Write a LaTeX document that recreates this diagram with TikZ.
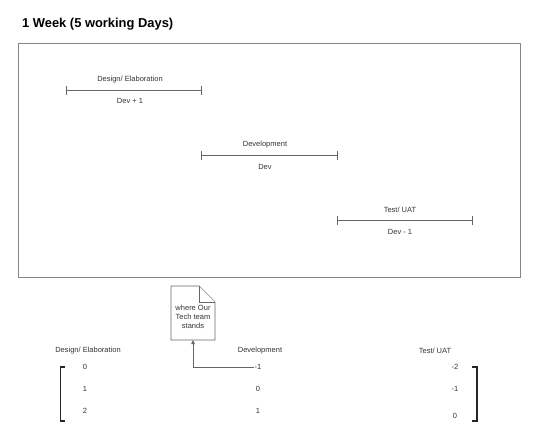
\documentclass[tikz,border=0pt]{standalone}
\usepackage{fontspec}
\setmainfont{Liberation Sans}
\usetikzlibrary{arrows.meta}
\definecolor{txt}{HTML}{333333}
\definecolor{ln}{HTML}{666666}
\begin{document}
\begin{tikzpicture}[x=1pt,y=-1pt,
  lbl/.style={font=\fontsize{7.5}{9}\selectfont,text=txt,inner sep=0pt,anchor=center},
  bar/.style={draw=ln,line width=0.9pt},
  frame/.style={draw=ln!80,line width=1pt},
  brk/.style={draw=black!85,line width=1.4pt},
  doc/.style={draw=ln,line width=0.8pt,fill=white},
  conn/.style={draw=ln,line width=0.8pt,-{Triangle[length=4pt,width=3.5pt]}}]
\useasboundingbox (0,0) rectangle (538,447);
% title
\node[font=\bfseries\fontsize{12.9}{15}\selectfont,anchor=west,inner sep=0pt] (title) at (22,24) {1 Week (5 working Days)};
% frame
\draw[frame] (18,43) rectangle (520,277);
% bars
\coordinate (d1) at (66,90); \coordinate (d2) at (201,90);
\coordinate (v1) at (201,155); \coordinate (v2) at (337,155);
\coordinate (t1) at (337,220); \coordinate (t2) at (472,220);
\draw[bar] (d1) -- (d2);
\draw[bar] ([yshift=-4.5]d1) -- ([yshift=4.5]d1);
\draw[bar] ([yshift=-4.5]d2) -- ([yshift=4.5]d2);
\draw[bar] (v1) -- (v2);
\draw[bar] ([yshift=-4.5]v1) -- ([yshift=4.5]v1);
\draw[bar] ([yshift=-4.5]v2) -- ([yshift=4.5]v2);
\draw[bar] (t1) -- (t2);
\draw[bar] ([yshift=-4.5]t1) -- ([yshift=4.5]t1);
\draw[bar] ([yshift=-4.5]t2) -- ([yshift=4.5]t2);
\node[lbl] (dl) at (130,80) {Design/ Elaboration};
\node[lbl] (dd) at (130,101) {Dev + 1};
\node[lbl] (vl) at (265,145) {Development};
\node[lbl] (vd) at (265,167) {Dev};
\node[lbl] (tl) at (400,210) {Test/ UAT};
\node[lbl] (td) at (400,232) {Dev - 1};
% document note
\draw[doc] (171,286) -- (199,286) -- (215,302) -- (215,340) -- (171,340) -- cycle;
\draw[doc] (199,286) -- (199,302) -- (215,302);
\coordinate (docb) at (193,340);
\node[lbl,align=center,font=\fontsize{7.5}{8.8}\selectfont] (note) at (193,317) {where Our\\Tech team\\stands};
% column headers
\node[lbl] (h1) at (88,351) {Design/ Elaboration};
\node[lbl] (h2) at (260,351) {Development};
\node[lbl] (h3) at (435,351) {Test/ UAT};
% numbers
\node[lbl] (a0) at (85,367) {0};
\node[lbl] (a1) at (85,389) {1};
\node[lbl] (a2) at (85,411) {2};
\node[lbl] (b0) at (258,367) {-1};
\node[lbl] (b1) at (258,389) {0};
\node[lbl] (b2) at (258,411) {1};
\node[lbl] (c0) at (455,367) {-2};
\node[lbl] (c1) at (455,389) {-1};
\node[lbl] (c2) at (455,416) {0};
% connector
\draw[conn] (b0.west) -- (193,367) -- (docb);
% brackets
\draw[brk] (65,367) -- (60.5,367) -- (60.5,421) -- (65,421);
\draw[brk] (472,367) -- (477,367) -- (477,421) -- (472,421);
\end{tikzpicture}
\end{document}
